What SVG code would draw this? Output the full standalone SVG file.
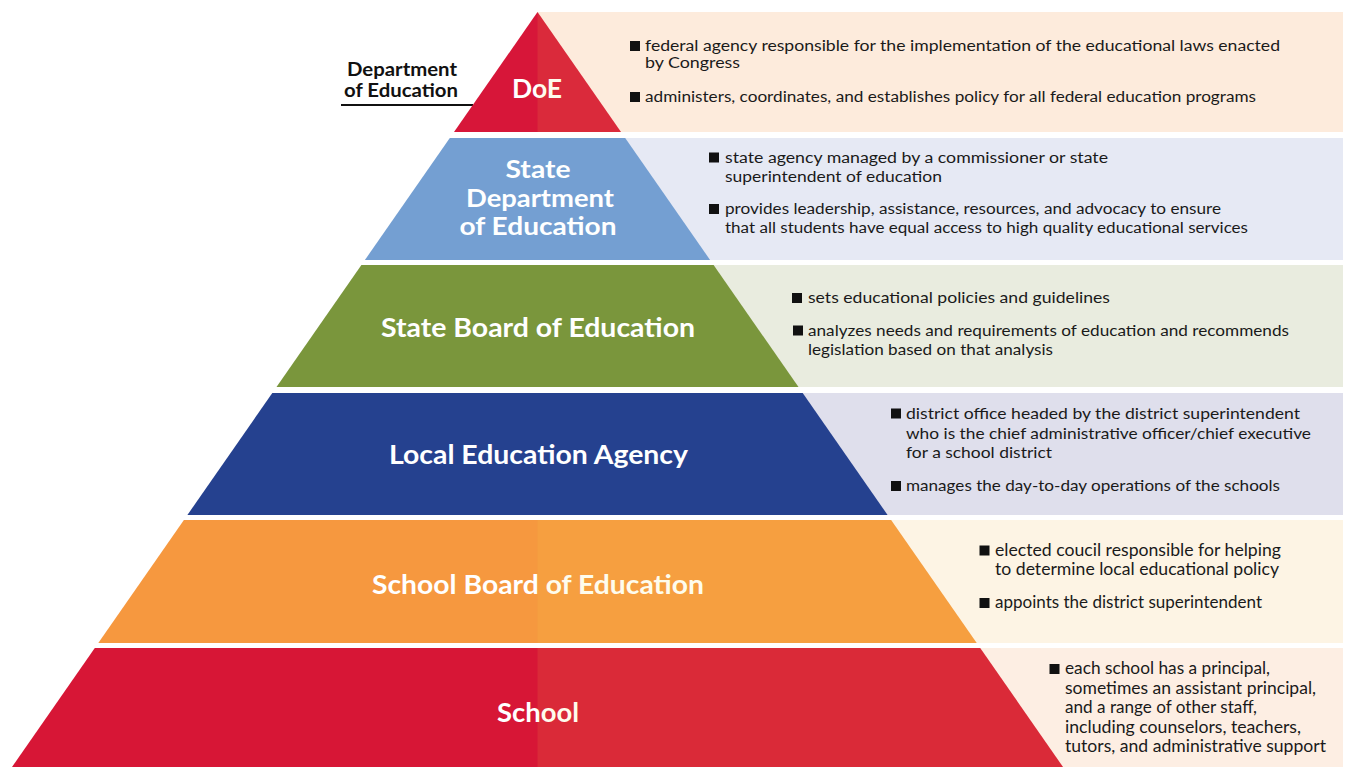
<svg xmlns="http://www.w3.org/2000/svg" width="1345" height="767" viewBox="0 0 1345 767">
<style>
.h{font-family:Lato,"Open Sans","Liberation Sans",sans-serif;font-weight:700;fill:#ffffff;text-anchor:middle;}
.t{font-family:Lato,"Open Sans","Liberation Sans",sans-serif;font-weight:400;fill:#1a1a1a;}
.lbl{font-family:Lato,"Open Sans","Liberation Sans",sans-serif;font-weight:700;fill:#111111;text-anchor:middle;font-size:18px;}
.b{fill:#111111;}
.ov{fill:#f5de4a;fill-opacity:0.1;}
</style>
<rect width="1345" height="767" fill="#ffffff"/>
<g id="connectors">
<line x1="341" y1="105" x2="473" y2="105" stroke="#111111" stroke-width="2"/>
</g>
<g id="label-department">
<text class="lbl" x="402" y="76" textLength="110" lengthAdjust="spacingAndGlyphs">Department</text>
<text class="lbl" x="401" y="97" textLength="114" lengthAdjust="spacingAndGlyphs">of Education</text>
</g>
<g id="doe">
<rect x="538" y="12" width="805" height="120" fill="#fdebdc"/>
<polygon points="537.5,12 621,132 454,132" fill="#d71639"/>
<text class="h" x="537" y="98" font-size="26" textLength="50" lengthAdjust="spacingAndGlyphs">DoE</text>
<polygon class="ov" points="537.5,12 621,132 537.5,132"/>
<rect class="b" x="630" y="41" width="10" height="10"/>
<text class="t" x="645" y="51" font-size="15.5" textLength="635" lengthAdjust="spacingAndGlyphs">federal agency responsible for the implementation of the educational laws enacted</text>
<text class="t" x="645" y="68" font-size="15.5" textLength="95" lengthAdjust="spacingAndGlyphs">by Congress</text>
<rect class="b" x="630" y="92" width="10" height="10"/>
<text class="t" x="645" y="102" font-size="15.5" textLength="611" lengthAdjust="spacingAndGlyphs">administers, coordinates, and establishes policy for all federal education programs</text>
</g>
<g id="state-department">
<rect x="538" y="138" width="805" height="122" fill="#e6e9f4"/>
<polygon points="449.8,138 625.2,138 710.1,260 364.9,260" fill="#749fd2"/>
<text class="h" x="538" y="178" font-size="25" textLength="65" lengthAdjust="spacingAndGlyphs">State</text>
<text class="h" x="540" y="207" font-size="25" textLength="148" lengthAdjust="spacingAndGlyphs">Department</text>
<text class="h" x="538" y="235" font-size="25" textLength="157" lengthAdjust="spacingAndGlyphs">of Education</text>
<rect class="b" x="709" y="152.5" width="10" height="10"/>
<text class="t" x="725" y="162.5" font-size="15.5" textLength="383" lengthAdjust="spacingAndGlyphs">state agency managed by a commissioner or state</text>
<text class="t" x="725" y="181.5" font-size="15.5" textLength="217" lengthAdjust="spacingAndGlyphs">superintendent of education</text>
<rect class="b" x="709" y="204" width="10" height="10"/>
<text class="t" x="725" y="214" font-size="15.5" textLength="496" lengthAdjust="spacingAndGlyphs">provides leadership, assistance, resources, and advocacy to ensure</text>
<text class="t" x="725" y="233" font-size="15.5" textLength="523" lengthAdjust="spacingAndGlyphs">that all students have equal access to high quality educational services</text>
</g>
<g id="state-board">
<rect x="538" y="265" width="805" height="122" fill="#e9ecdf"/>
<polygon points="361.4,265 713.6,265 798.5,387 276.5,387" fill="#7a963c"/>
<text class="h" x="538" y="337" font-size="26" textLength="314" lengthAdjust="spacingAndGlyphs">State Board of Education</text>
<rect class="b" x="792" y="293" width="10" height="10"/>
<text class="t" x="808" y="303" font-size="16" textLength="302" lengthAdjust="spacingAndGlyphs">sets educational policies and guidelines</text>
<rect class="b" x="793" y="325.5" width="10" height="10"/>
<text class="t" x="808" y="335.5" font-size="16" textLength="481" lengthAdjust="spacingAndGlyphs">analyzes needs and requirements of education and recommends</text>
<text class="t" x="808" y="355" font-size="16" textLength="245" lengthAdjust="spacingAndGlyphs">legislation based on that analysis</text>
</g>
<g id="local-education-agency">
<rect x="538" y="393" width="805" height="122" fill="#dfdfec"/>
<polygon points="272.3,393 802.7,393 887.6,515 187.4,515" fill="#25418f"/>
<text class="h" x="538.5" y="464" font-size="26" textLength="299" lengthAdjust="spacingAndGlyphs">Local Education Agency</text>
<rect class="b" x="891" y="408.5" width="10" height="10"/>
<text class="t" x="906" y="418.5" font-size="16" textLength="394" lengthAdjust="spacingAndGlyphs">district office headed by the district superintendent</text>
<text class="t" x="906" y="438.5" font-size="16" textLength="405" lengthAdjust="spacingAndGlyphs">who is the chief administrative officer/chief executive</text>
<text class="t" x="906" y="458" font-size="16" textLength="146" lengthAdjust="spacingAndGlyphs">for a school district</text>
<rect class="b" x="891" y="481" width="10" height="10"/>
<text class="t" x="906" y="491" font-size="16" textLength="374" lengthAdjust="spacingAndGlyphs">manages the day-to-day operations of the schools</text>
</g>
<g id="school-board">
<rect x="538" y="520" width="805" height="123" fill="#fdf4e4"/>
<polygon points="183.9,520 891.1,520 976.7,643 98.3,643" fill="#f6983f"/>
<text class="h" x="538" y="594" font-size="26" textLength="332" lengthAdjust="spacingAndGlyphs">School Board of Education</text>
<polygon class="ov" points="537.5,520 891.1,520 976.7,643 537.5,643"/>
<rect class="b" x="979.5" y="545.5" width="10" height="10"/>
<text class="t" x="995" y="555.5" font-size="17" textLength="286" lengthAdjust="spacingAndGlyphs">elected coucil responsible for helping</text>
<text class="t" x="995" y="575" font-size="17" textLength="284" lengthAdjust="spacingAndGlyphs">to determine local educational policy</text>
<rect class="b" x="979.5" y="598" width="10" height="10"/>
<text class="t" x="995" y="608" font-size="17" textLength="267" lengthAdjust="spacingAndGlyphs">appoints the district superintendent</text>
</g>
<g id="school">
<rect x="538" y="648" width="805" height="119" fill="#fdeee3"/>
<polygon points="94.8,648 980.2,648 1063,767 12,767" fill="#d71636"/>
<text class="h" x="538" y="722" font-size="26" textLength="82" lengthAdjust="spacingAndGlyphs">School</text>
<polygon class="ov" points="537.5,648 980.2,648 1063,767 537.5,767"/>
<rect class="b" x="1049.5" y="664" width="10" height="10"/>
<text class="t" x="1065" y="674" font-size="17" textLength="205" lengthAdjust="spacingAndGlyphs">each school has a principal,</text>
<text class="t" x="1065" y="694" font-size="17" textLength="251" lengthAdjust="spacingAndGlyphs">sometimes an assistant principal,</text>
<text class="t" x="1065" y="713" font-size="17" textLength="192" lengthAdjust="spacingAndGlyphs">and a range of other staff,</text>
<text class="t" x="1065" y="733" font-size="17" textLength="236" lengthAdjust="spacingAndGlyphs">including counselors, teachers,</text>
<text class="t" x="1065" y="752" font-size="17" textLength="261" lengthAdjust="spacingAndGlyphs">tutors, and administrative support</text>
</g>
</svg>
